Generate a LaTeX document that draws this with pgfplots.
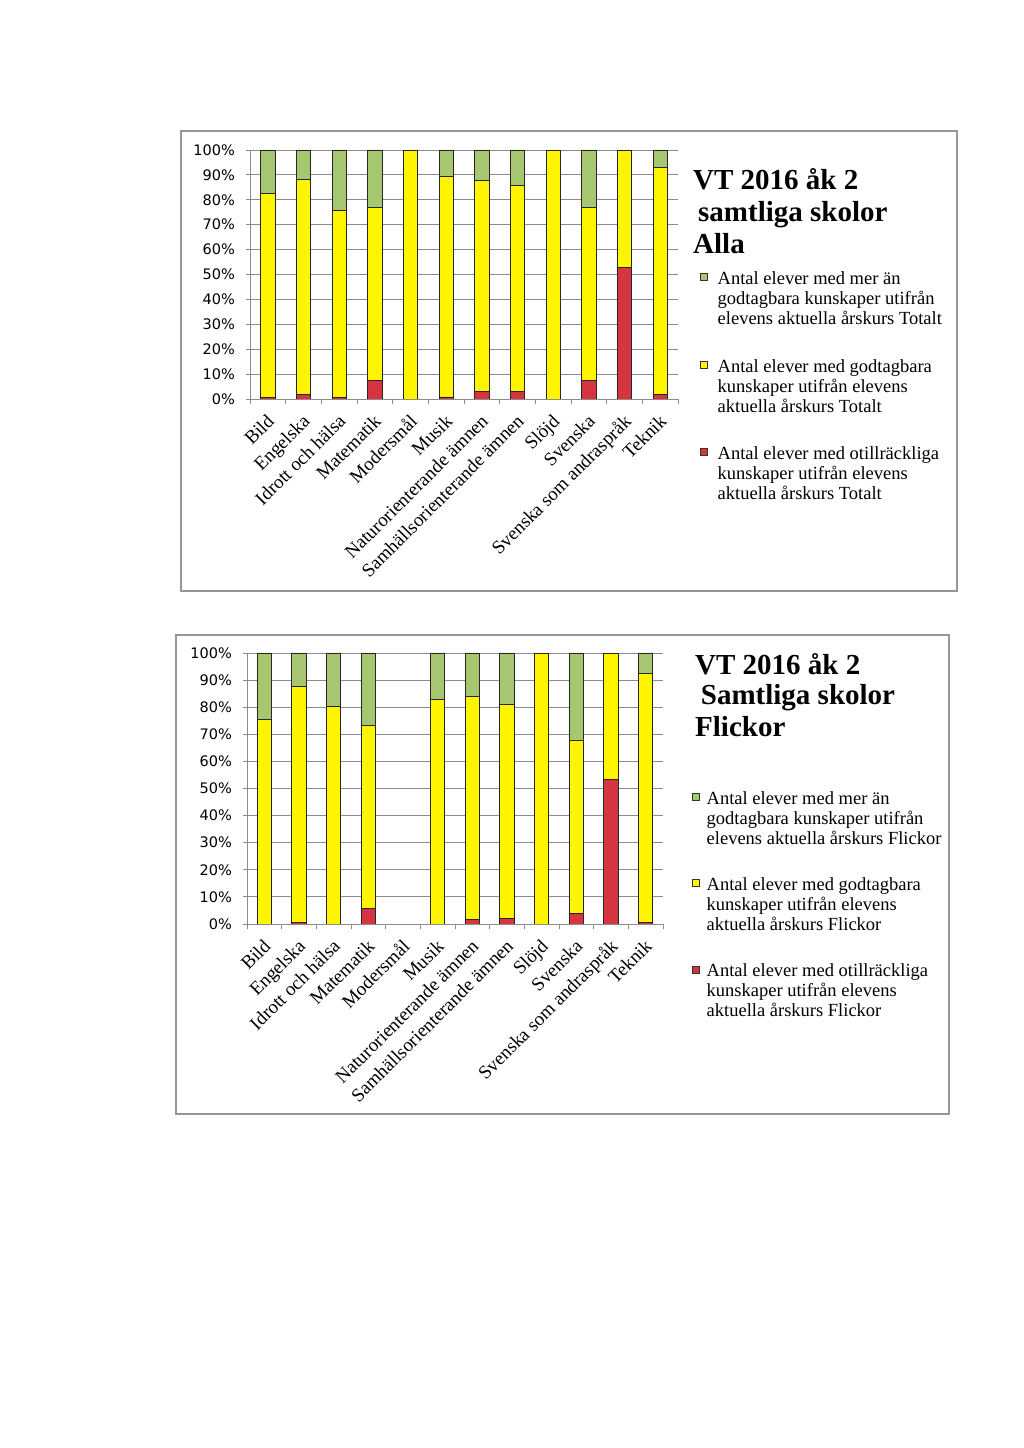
\documentclass[border=0pt]{standalone}
\usepackage{pgfplots}
\pgfplotsset{compat=1.18}
\usepackage{fontspec}
\setmainfont{Liberation Serif}
\newfontfamily\tickfont{DejaVu Sans}
\definecolor{cgreen}{RGB}{166,198,112}
\definecolor{cyellow}{RGB}{255,245,0}
\definecolor{cred}{RGB}{214,52,64}
\definecolor{gridgray}{RGB}{140,140,140}
\definecolor{boxgray}{RGB}{150,150,150}
\pgfplotsset{
  mybars/.style={
    scale only axis,
    ybar stacked,
    bar width=14.3pt,
    ymin=0, ymax=100,
    xmin=-0.5, xmax=11.5,
    axis x line*=bottom, axis y line*=left,
    axis line style={gridgray, line width=0.9pt},
    ytick={0,10,...,100},
    yticklabels={0\%,10\%,20\%,30\%,40\%,50\%,60\%,70\%,80\%,90\%,100\%},
    yticklabel style={font=\tickfont\fontsize{14.5}{16}\selectfont, inner sep=0pt, xshift=-11pt},
    xtick={0,...,11},
    xticklabels={Bild,Engelska,Idrott och hälsa,Matematik,Modersmål,Musik,Naturorienterande ämnen,Samhällsorienterande ämnen,Slöjd,Svenska,Svenska som andraspråk,Teknik},
    xticklabel style={font=\fontsize{19}{21}\selectfont, xshift=-2pt, yshift=-10pt, rotate=45, anchor=north east, inner sep=0pt},
    minor xtick={-0.5,0.5,...,11.5},
    tick align=outside,
    major tick length=4pt,
    minor tick length=5pt,
    major x tick style={draw=none},
    minor x tick style={gridgray, line width=0.9pt},
    ytick style={gridgray, line width=0.9pt},
    ymajorgrids,
    major grid style={gridgray, line width=0.8pt},
    every axis plot/.append style={draw=black!85, line width=0.8pt},
    reverse legend,
    legend style={draw=none, fill=none, inner sep=0pt, outer sep=0pt,
      font=\fontsize{18.5}{20}\selectfont,
      cells={align=left, anchor=base west, inner sep=0pt}},
  }
}
\begin{document}
\begin{tikzpicture}
\fill[white] (0pt,0pt) rectangle (1024pt,1448pt);
% boxes
\draw[boxgray, line width=1.2pt] (181pt,1317pt) rectangle (957pt,857pt);
\draw[boxgray, line width=1.2pt] (176pt,813pt) rectangle (949pt,334pt);

% ---------- Top chart: Alla ----------
\begin{axis}[mybars,
  at={(250pt,1049pt)}, anchor=south west,
  width=428pt, height=249pt,
  legend style={at={(1.0514,0.5233)}, anchor=north west, row sep=28pt},
  legend image code/.code={\draw[#1, draw=black!80, line width=0.6pt] (0pt,44pt) rectangle (7pt,51pt); \path (15pt,0pt);},
]
\addplot[fill=cred] coordinates {(0,0.7) (1,2.0) (2,0.5) (3,7.4) (4,0) (5,0.8) (6,3.2) (7,3.2) (8,0) (9,7.4) (10,52.9) (11,1.7)};
\addplot[fill=cyellow] coordinates {(0,82.0) (1,86.2) (2,75.2) (3,69.5) (4,100) (5,88.4) (6,84.4) (7,82.6) (8,100) (9,69.7) (10,47.1) (11,91.3)};
\addplot[fill=cgreen] coordinates {(0,17.3) (1,11.8) (2,24.3) (3,23.1) (4,0) (5,10.8) (6,12.4) (7,14.2) (8,0) (9,22.9) (10,0) (11,7.0)};
\addlegendentry{\strut Antal elever med otillräckliga\\kunskaper utifrån elevens\\aktuella årskurs Totalt\strut}
\addlegendentry{\strut Antal elever med godtagbara\\kunskaper utifrån elevens\\aktuella årskurs Totalt\strut}
\addlegendentry{\strut Antal elever med mer än\\godtagbara kunskaper utifrån\\elevens aktuella årskurs Totalt\strut}
\end{axis}
\node[anchor=base west, inner sep=0pt, font=\bfseries\fontsize{29}{31}\selectfont] at (693pt,1258pt) {VT 2016 åk 2};
\node[anchor=base west, inner sep=0pt, font=\bfseries\fontsize{29}{31}\selectfont] at (698pt,1226.3pt) {samtliga skolor};
\node[anchor=base west, inner sep=0pt, font=\bfseries\fontsize{29}{31}\selectfont] at (693pt,1194.7pt) {Alla};

% ---------- Bottom chart: Flickor ----------
\begin{axis}[mybars,
  at={(247pt,524pt)}, anchor=south west,
  width=416pt, height=271pt,
  legend style={at={(1.069,0.4993)}, anchor=north west, row sep=26.6pt},
  legend image code/.code={\draw[#1, draw=black!80, line width=0.6pt] (0pt,44pt) rectangle (7pt,51pt); \path (12.3pt,0pt);},
]
\addplot[fill=cred] coordinates {(0,0) (1,0.5) (2,0) (3,5.7) (5,0) (6,1.8) (7,2.2) (8,0) (9,3.9) (10,53.3) (11,0.7)};
\addplot[fill=cyellow] coordinates {(0,75.4) (1,87.2) (2,80.4) (3,67.5) (5,83.0) (6,82.1) (7,78.7) (8,100) (9,64.0) (10,46.7) (11,91.9)};
\addplot[fill=cgreen] coordinates {(0,24.6) (1,12.3) (2,19.6) (3,26.8) (5,17.0) (6,16.1) (7,19.1) (8,0) (9,32.1) (10,0) (11,7.4)};
\addlegendentry{\strut Antal elever med otillräckliga\\kunskaper utifrån elevens\\aktuella årskurs Flickor\strut}
\addlegendentry{\strut Antal elever med godtagbara\\kunskaper utifrån elevens\\aktuella årskurs Flickor\strut}
\addlegendentry{\strut Antal elever med mer än\\godtagbara kunskaper utifrån\\elevens aktuella årskurs Flickor\strut}
\end{axis}
\node[anchor=base west, inner sep=0pt, font=\bfseries\fontsize{29}{31}\selectfont] at (695pt,773.7pt) {VT 2016 åk 2};
\node[anchor=base west, inner sep=0pt, font=\bfseries\fontsize{29}{31}\selectfont] at (700.7pt,743pt) {Samtliga skolor};
\node[anchor=base west, inner sep=0pt, font=\bfseries\fontsize{29}{31}\selectfont] at (695pt,711.3pt) {Flickor};
\end{tikzpicture}
\end{document}
